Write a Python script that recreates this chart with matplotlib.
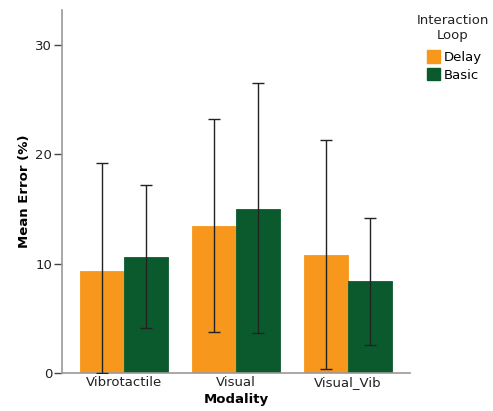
import numpy as np
import matplotlib
matplotlib.use('Agg')
import matplotlib.pyplot as plt
from matplotlib.patches import Patch

# values
modalities = ['Vibrotactile', 'Visual', 'Visual_Vib']
loops = ['Delay', 'Basic']
means = {
    'Delay': [9.33, 13.42, 10.80],
    'Basic': [10.64, 15.03, 8.39],
}
ci_low = {
    'Delay': [0.0, 3.75, 0.37],
    'Basic': [4.10, 3.66, 2.60],
}
ci_high = {
    'Delay': [19.17, 23.20, 21.30],
    'Basic': [17.20, 26.50, 14.15],
}
colors = {'Delay': '#F7981D', 'Basic': '#0B5A2E'}
yticks = [0, 10, 20, 30]

fig = plt.figure(figsize=(4.93, 4.11), dpi=100)
ax = fig.add_axes([0.1258, 0.0925, 0.7058, 0.8832])

x = np.arange(len(modalities))
width = 0.393
offsets = {'Delay': -width / 2, 'Basic': width / 2}

for loop in loops:
    m = np.array(means[loop])
    lo = m - np.array(ci_low[loop])
    hi = np.array(ci_high[loop]) - m
    ax.bar(x + offsets[loop], m, width, color=colors[loop],
           edgecolor=colors[loop], linewidth=0.6, zorder=2)
    ax.errorbar(x + offsets[loop], m, yerr=[lo, hi], fmt='none',
                ecolor='#222222', elinewidth=1.0, capsize=4.5,
                capthick=1.0, zorder=3)

ax.set_xlim(-0.554, 2.554)
ax.set_ylim(0, 33.2)
ax.set_yticks(yticks)
ax.set_xticks(x)
ax.set_xticklabels(modalities, fontsize=9.5, color='#222222')
ax.tick_params(axis='y', length=6, width=1, color='#444444',
               labelsize=9.5, labelcolor='#222222', pad=1)
ax.tick_params(axis='x', length=0, pad=2)

for side in ['top', 'right']:
    ax.spines[side].set_visible(False)
for side in ['left', 'bottom']:
    ax.spines[side].set_color('#999999')
    ax.spines[side].set_linewidth(1.2)

ax.set_ylabel('Mean Error (%)', fontsize=9.5, fontweight='bold', labelpad=3)
ax.set_xlabel('Modality', fontsize=9.5, fontweight='bold', labelpad=3)

# legend title drawn separately so it can be centred above the entries
fig.text(453 / 493, 1 - 28 / 411, 'Interaction\nLoop', ha='center', va='center',
         multialignment='center', fontsize=9.5, color='#222222',
         linespacing=1.1)

handles = [Patch(facecolor=colors[l], edgecolor=colors[l]) for l in loops]
fig.legend(handles, loops, loc='upper left',
           bbox_to_anchor=(427 / 493, 1 - 50 / 411),
           frameon=False, fontsize=9.5,
           handlelength=1.0, handleheight=1.1, handletextpad=0.25,
           labelspacing=0.3, borderaxespad=0, borderpad=0)

fig.savefig('out.png', dpi=100)
